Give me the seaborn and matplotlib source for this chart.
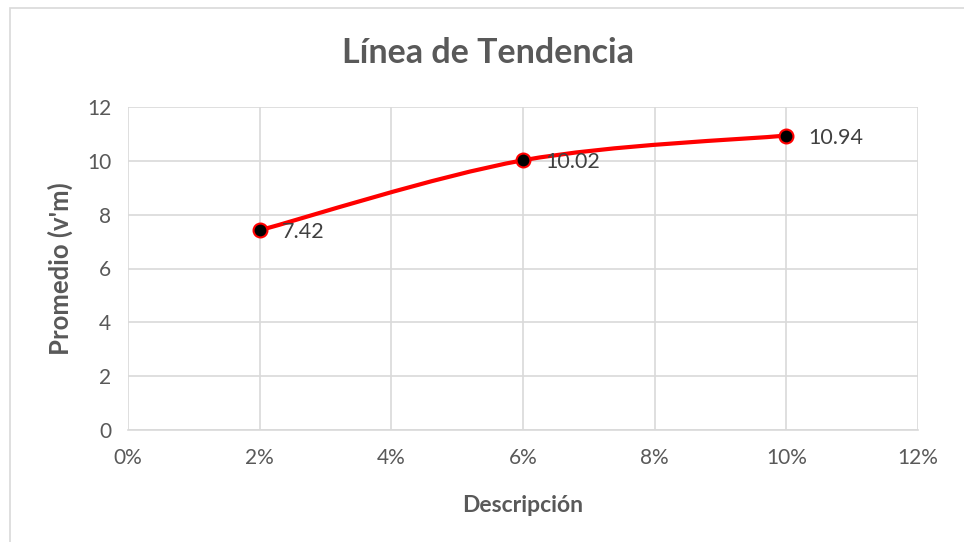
import numpy as np
import matplotlib
matplotlib.use("Agg")
import matplotlib.pyplot as plt
from matplotlib.path import Path
from matplotlib.patches import PathPatch, Rectangle
from matplotlib.ticker import PercentFormatter
import seaborn as sns

# Datos
descripcion = [0.02, 0.06, 0.10]
promedio = [7.42, 10.02, 10.94]
etiquetas = ["7.42", "10.02", "10.94"]
x_ticks = [0, 0.02, 0.04, 0.06, 0.08, 0.10, 0.12]
y_ticks = [0, 2, 4, 6, 8, 10, 12]

sns.set_theme(style="whitegrid")
plt.rcParams['font.family'] = ['Lato', 'DejaVu Sans']
gris = '#595959'

fig = plt.figure(figsize=(9.64, 5.42), dpi=100)
ax = fig.add_axes([128/964, 1 - 430/542, (918-128)/964, (430-107)/542])

# borde del area del grafico
fig.patches.append(Rectangle((10/964, -0.05), 1.1, 1.05 - 8/542, transform=fig.transFigure,
                             fill=False, edgecolor='#d9d9d9', linewidth=1.2))

# linea suavizada (estilo Excel, Bezier tipo Catmull-Rom)
pts = np.column_stack([descripcion, promedio])
verts = [tuple(pts[0])]
codes = [Path.MOVETO]
for i in range(len(pts) - 1):
    p0 = pts[max(i - 1, 0)]
    p1 = pts[i]
    p2 = pts[i + 1]
    p3 = pts[min(i + 2, len(pts) - 1)]
    c1 = p1 + (p2 - p0) / 6
    c2 = p2 - (p3 - p1) / 6
    verts += [tuple(c1), tuple(c2), tuple(p2)]
    codes += [Path.CURVE4] * 3
ax.add_patch(PathPatch(Path(verts, codes), facecolor='none', edgecolor='#ff0000',
                       linewidth=3, zorder=3))

sns.scatterplot(x=descripcion, y=promedio, ax=ax, color='black', edgecolor='#ff0000',
                linewidth=1.5, s=100, zorder=4)

for xv, yv, t in zip(descripcion, promedio, etiquetas):
    ax.annotate(t, (xv, yv), xytext=(16, -1.5), textcoords='offset points',
                ha='left', va='center', fontsize=15.5, color='#404040')

ax.set_xlim(0, 0.12)
ax.set_ylim(0, 12)
ax.set_xticks(x_ticks)
ax.set_yticks(y_ticks)
ax.xaxis.set_major_formatter(PercentFormatter(1.0, decimals=0))
ax.grid(True, color='#d9d9d9', linewidth=1.2)
for s in ['top', 'right', 'left']:
    ax.spines[s].set_visible(False)
ax.spines['bottom'].set_color('#d9d9d9')
ax.spines['bottom'].set_linewidth(1.2)
ax.tick_params(axis='both', labelsize=15, colors=gris, length=0)
ax.tick_params(axis='x', pad=13)
ax.tick_params(axis='y', pad=12)

ax.set_xlabel('Descripción', fontsize=16.5, fontweight='bold', color=gris)
ax.xaxis.set_label_coords(0.5, -(505 - 430) / (430 - 107), transform=ax.transAxes)
ax.set_ylabel("Promedio (v'm)", fontsize=18.5, fontweight='bold', color=gris)
ax.yaxis.set_label_coords(-(128 - 60) / (918 - 128), 0.5, transform=ax.transAxes)
ax.xaxis.label.set_va('center')
ax.yaxis.label.set_va('center')
fig.text(488/964, 1 - 53/542, 'Línea de Tendencia', ha='center', va='center',
         fontsize=24.5, fontweight='bold', color=gris)

fig.savefig('out.png', dpi=100, facecolor='white')
